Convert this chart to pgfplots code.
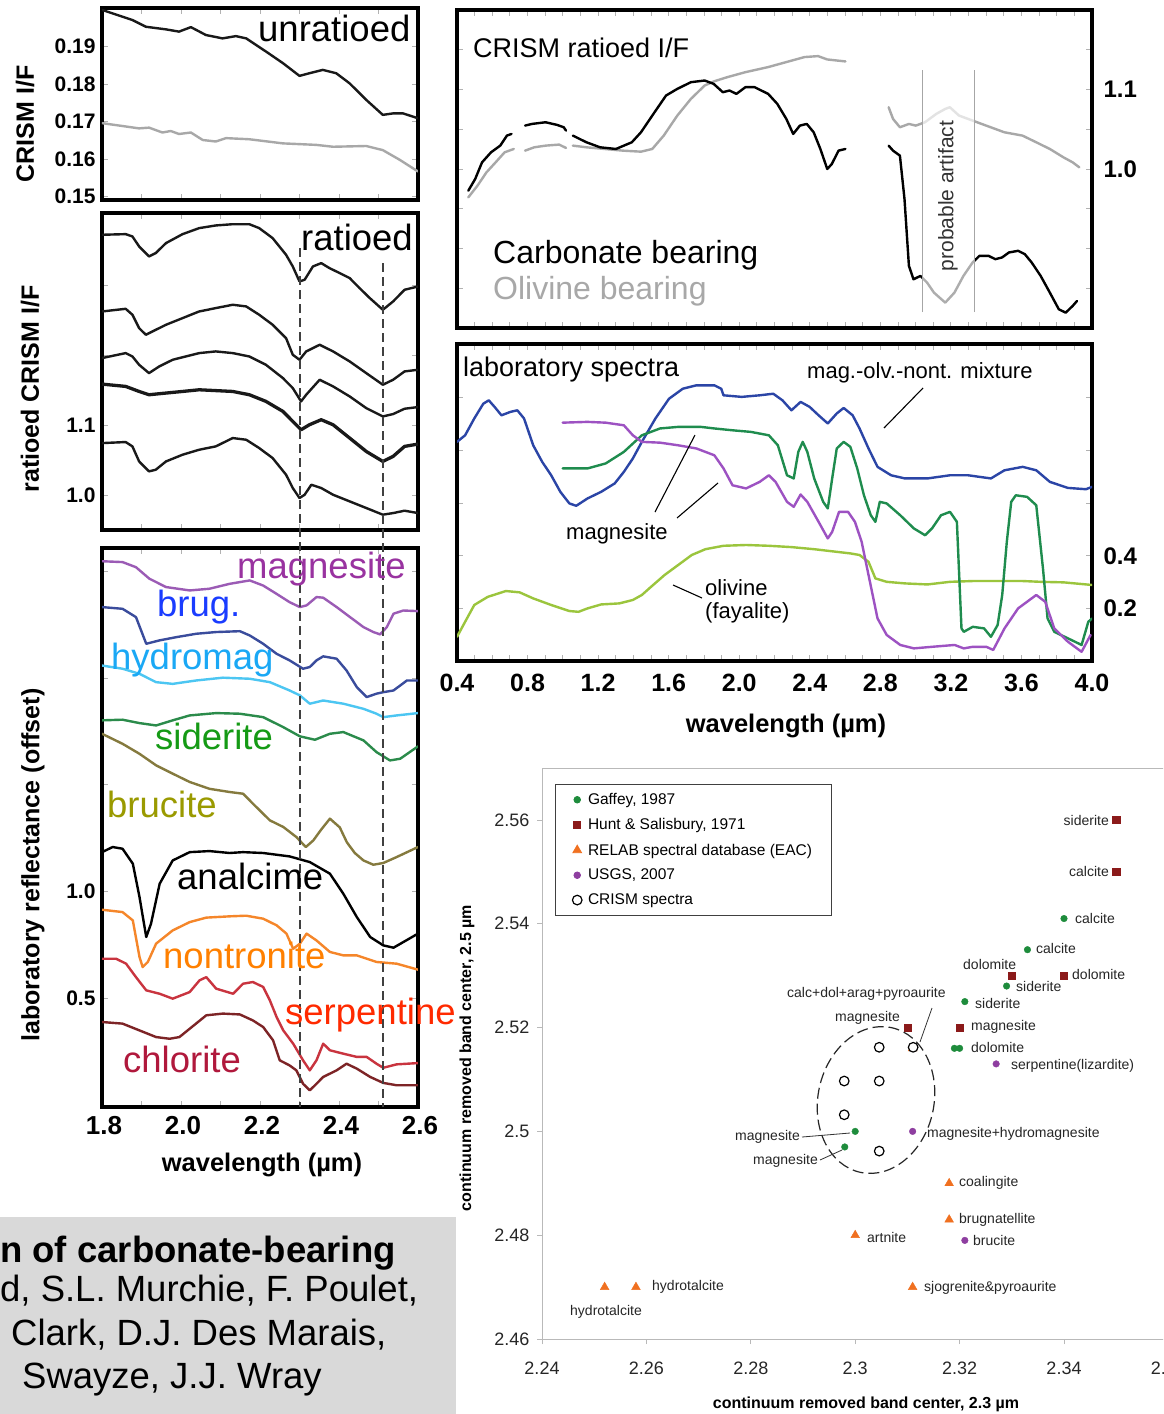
\documentclass[border=0pt]{standalone}
\usepackage{pgfplots}
\pgfplotsset{compat=1.18}
\usepackage{fontspec}
\setmainfont{Liberation Sans}
\newcommand\fs[1]{\fontsize{#1}{#1}\selectfont}
\definecolor{cmag}{HTML}{9B5BB5}
\definecolor{cbrug}{HTML}{3A4C9C}
\definecolor{chyd}{HTML}{4CC6F2}
\definecolor{csid}{HTML}{2B8B4B}
\definecolor{cbru}{HTML}{857A3E}
\definecolor{cnon}{HTML}{F5862A}
\definecolor{cser}{HTML}{C9343F}
\definecolor{cchl}{HTML}{7D2426}
\definecolor{tmag}{HTML}{9933A0}
\definecolor{tbrug}{HTML}{1A3CFF}
\definecolor{thyd}{HTML}{1AA8F5}
\definecolor{tsid}{HTML}{159A15}
\definecolor{tbru}{HTML}{9A9A00}
\definecolor{tnon}{HTML}{FF8000}
\definecolor{tser}{HTML}{FF2A00}
\definecolor{tchl}{HTML}{B0183C}
\definecolor{lblue}{HTML}{2B45A6}
\definecolor{lgreen}{HTML}{1F8C4E}
\definecolor{lpurp}{HTML}{9D52C2}
\definecolor{loliv}{HTML}{9BC53D}
\definecolor{olgray}{HTML}{A8A8A8}
\definecolor{sgreen}{HTML}{1E8C3C}
\definecolor{sred}{HTML}{8B1A1A}
\definecolor{sorange}{HTML}{F07020}
\definecolor{spurp}{HTML}{8E3EA0}
\definecolor{boxgray}{HTML}{D9D9D9}
\pgfplotsset{
  panel/.style={
    scale only axis, anchor=north west,
    axis line style={line width=3.5pt, black},
    tick align=inside,
    major tick length=6pt, minor tick length=6pt,
    tick style={gray!60, line width=0.9pt},
    /pgf/number format/assume math mode=true,
    every axis plot/.append style={line width=2.4pt, line join=round, line cap=round, mark=none},
  },
  lpanel/.style={panel, width=316pt, xmin=1.8, xmax=2.6,
    xtick={1.8,2.0,2.2,2.4,2.6}, minor x tick num=1,
    yticklabel style={font=\bfseries\fs{21}, xshift=-3pt},
    xticklabel style={font=\bfseries\fs{26}, yshift=-6pt, xshift=2pt},
  },
  rpanel/.style={panel, width=635pt, xmin=0.4, xmax=4.0,
    xtick={0.4,0.8,1.2,1.6,2.0,2.4,2.8,3.2,3.6,4.0}, minor x tick num=3,
    yticklabel pos=right,
    yticklabel style={font=\bfseries\fs{24}, xshift=8pt},
    xticklabel style={font=\bfseries\fs{25}, yshift=-9pt},
  },
}
\begin{document}
\begin{tikzpicture}
\path[use as bounding box] (0pt,0pt) rectangle (1163pt,-1414pt);
\clip (0pt,0pt) rectangle (1163pt,-1414pt);
\fill[white] (0pt,0pt) rectangle (1163pt,-1414pt);
\fill[boxgray] (0pt,-1217pt) rectangle (456pt,-1414pt);

% ---------- P1 unratioed ----------
\begin{axis}[lpanel, at={(102pt,-8pt)}, height=192pt,
  ymin=0.1491, ymax=0.2003, xticklabels={},
  ytick={0.15,0.16,0.17,0.18,0.19}, yticklabels={0.15,0.16,0.17,0.18,0.19}]
\addplot[black!90] coordinates {(1.80,0.1998)(1.877,0.1971)(1.911,0.1953)(1.962,0.1946)(1.995,0.1940)(2.025,0.1952)(2.063,0.1931)(2.105,0.1922)(2.139,0.1928)(2.165,0.1922)(2.215,0.1887)(2.258,0.1856)(2.300,0.1822)(2.325,0.1829)(2.359,0.1838)(2.393,0.1829)(2.427,0.1802)(2.469,0.1758)(2.511,0.1718)(2.537,0.1722)(2.562,0.1722)(2.60,0.1709)};
\addplot[olgray] coordinates {(1.80,0.1696)(1.894,0.1682)(1.919,0.1684)(1.953,0.1671)(1.974,0.1675)(1.995,0.1667)(2.025,0.1671)(2.055,0.1651)(2.088,0.1647)(2.114,0.1656)(2.173,0.1653)(2.258,0.1642)(2.342,0.1638)(2.385,0.1633)(2.469,0.1635)(2.511,0.1624)(2.554,0.1598)(2.60,0.1567)};
\end{axis}

% ---------- P2 ratioed ----------
\begin{axis}[lpanel, at={(102pt,-213pt)}, height=317pt,
  ymin=0.951, ymax=1.404, xticklabels={},
  ytick={1.0,1.1,1.2,1.3}, yticklabels={1.0,1.1,{},{}}]
\addplot[black!90] coordinates {(1.80,1.3729)(1.860,1.3738)(1.877,1.3705)(1.894,1.3562)(1.919,1.3419)(1.936,1.3467)(1.962,1.361)(2.004,1.3738)(2.046,1.3824)(2.088,1.3862)(2.131,1.388)(2.173,1.388)(2.198,1.3824)(2.232,1.3681)(2.266,1.3443)(2.283,1.3276)(2.300,1.3062)(2.313,1.3086)(2.334,1.3276)(2.355,1.3324)(2.376,1.3252)(2.402,1.3181)(2.427,1.311)(2.452,1.2967)(2.478,1.2824)(2.511,1.2657)(2.537,1.2776)(2.566,1.2943)(2.60,1.299)};
\addplot[black!90] coordinates {(1.80,1.2633)(1.860,1.2671)(1.877,1.2586)(1.894,1.2395)(1.911,1.23)(1.928,1.2348)(1.962,1.2443)(2.004,1.2538)(2.046,1.2633)(2.088,1.2681)(2.131,1.2729)(2.165,1.2705)(2.198,1.2586)(2.232,1.2443)(2.266,1.2252)(2.283,1.2014)(2.300,1.1943)(2.317,1.2062)(2.351,1.2157)(2.385,1.2062)(2.427,1.1919)(2.469,1.1752)(2.511,1.1586)(2.537,1.1657)(2.566,1.1776)(2.60,1.18)};
\addplot[black!90] coordinates {(1.80,1.1967)(1.860,1.2038)(1.877,1.199)(1.894,1.1871)(1.919,1.1752)(1.945,1.1848)(1.979,1.1943)(2.046,1.2038)(2.088,1.2062)(2.131,1.2038)(2.173,1.199)(2.215,1.1871)(2.258,1.1681)(2.283,1.1538)(2.304,1.1348)(2.317,1.1443)(2.351,1.1657)(2.385,1.1562)(2.427,1.1419)(2.469,1.1252)(2.511,1.1133)(2.537,1.1167)(2.566,1.1243)(2.60,1.1267)};
\addplot[black!90, line width=3.3pt] coordinates {(1.80,1.1595)(1.860,1.1562)(1.894,1.149)(1.919,1.1443)(1.962,1.1467)(2.004,1.149)(2.046,1.1514)(2.131,1.149)(2.173,1.1443)(2.215,1.1348)(2.258,1.1205)(2.283,1.1062)(2.304,1.0943)(2.325,1.1014)(2.355,1.1086)(2.385,1.1014)(2.427,1.0824)(2.469,1.0633)(2.511,1.049)(2.537,1.0562)(2.566,1.0705)(2.60,1.0738)};
\addplot[black!90] coordinates {(1.80,1.0752)(1.860,1.0767)(1.877,1.0705)(1.894,1.049)(1.919,1.0348)(1.936,1.0371)(1.962,1.049)(2.004,1.0586)(2.046,1.0657)(2.088,1.0705)(2.131,1.0824)(2.165,1.08)(2.198,1.0681)(2.232,1.0538)(2.266,1.03)(2.283,1.011)(2.300,0.9967)(2.313,1.0014)(2.330,1.0157)(2.355,1.011)(2.385,1.0014)(2.427,0.9919)(2.469,0.9824)(2.511,0.9729)(2.537,0.9752)(2.566,0.9786)(2.60,0.9752)};
\end{axis}

% ---------- P3 laboratory ----------
\begin{axis}[lpanel, at={(102pt,-548pt)}, height=559pt,
  ymin=-0.011, ymax=2.610,
  xticklabels={1.8,2.0,2.2,2.4,2.6},
  ytick={0.5,1.0,1.5,2.0,2.5}, yticklabels={0.5,1.0,{},{},{}}]
\addplot[cmag] coordinates {(1.80,2.548)(1.852,2.544)(1.886,2.520)(1.92,2.466)(1.962,2.427)(2.022,2.411)(2.072,2.419)(2.123,2.442)(2.174,2.458)(2.208,2.434)(2.242,2.395)(2.275,2.356)(2.301,2.333)(2.318,2.341)(2.343,2.380)(2.36,2.377)(2.394,2.333)(2.428,2.286)(2.462,2.239)(2.487,2.216)(2.504,2.205)(2.521,2.239)(2.538,2.302)(2.563,2.317)(2.60,2.314)};
\addplot[cbrug] coordinates {(1.80,2.333)(1.852,2.325)(1.886,2.286)(1.912,2.161)(1.946,2.177)(1.988,2.192)(2.039,2.208)(2.089,2.216)(2.149,2.220)(2.174,2.2)(2.208,2.161)(2.242,2.114)(2.275,2.083)(2.309,2.044)(2.326,2.052)(2.343,2.083)(2.36,2.102)(2.394,2.091)(2.419,2.036)(2.445,1.958)(2.47,1.911)(2.495,1.927)(2.512,1.934)(2.538,1.942)(2.572,1.989)(2.60,1.989)};
\addplot[chyd] coordinates {(1.80,2.059)(1.852,2.044)(1.895,2.020)(1.937,1.981)(1.979,1.973)(2.039,1.989)(2.106,2.002)(2.174,1.997)(2.225,1.981)(2.275,1.942)(2.301,1.919)(2.326,1.880)(2.36,1.895)(2.411,1.880)(2.462,1.856)(2.495,1.833)(2.512,1.817)(2.546,1.825)(2.60,1.836)};
\addplot[csid] coordinates {(1.80,1.802)(1.852,1.805)(1.895,1.789)(1.937,1.778)(1.979,1.802)(2.022,1.825)(2.089,1.836)(2.149,1.833)(2.208,1.817)(2.259,1.770)(2.301,1.727)(2.339,1.711)(2.377,1.739)(2.411,1.747)(2.462,1.708)(2.495,1.653)(2.529,1.614)(2.555,1.622)(2.60,1.680)};
\addplot[cbru] coordinates {(1.80,1.739)(1.852,1.692)(1.895,1.645)(1.937,1.591)(1.979,1.552)(2.022,1.513)(2.072,1.481)(2.123,1.466)(2.157,1.458)(2.191,1.395)(2.225,1.333)(2.259,1.302)(2.292,1.255)(2.316,1.208)(2.335,1.239)(2.355,1.29)(2.377,1.341)(2.402,1.30)(2.420,1.23)(2.44,1.18)(2.462,1.145)(2.487,1.125)(2.512,1.133)(2.546,1.161)(2.60,1.208)};
\addplot[black] coordinates {(1.80,1.184)(1.827,1.208)(1.852,1.2)(1.878,1.13)(1.895,0.973)(1.912,0.786)(1.924,0.848)(1.946,1.036)(1.979,1.145)(2.022,1.184)(2.072,1.189)(2.123,1.18)(2.157,1.184)(2.208,1.18)(2.275,1.164)(2.326,1.1375)(2.377,1.083)(2.411,0.989)(2.445,0.88)(2.479,0.786)(2.512,0.747)(2.538,0.736)(2.563,0.7625)(2.60,0.802)};
\addplot[cnon] coordinates {(1.80,0.914)(1.852,0.903)(1.878,0.864)(1.895,0.692)(1.903,0.645)(1.916,0.669)(1.937,0.755)(1.979,0.817)(2.022,0.856)(2.064,0.877)(2.123,0.883)(2.165,0.886)(2.208,0.872)(2.242,0.841)(2.267,0.802)(2.284,0.731)(2.301,0.755)(2.318,0.802)(2.343,0.770)(2.377,0.716)(2.411,0.70)(2.445,0.70)(2.495,0.669)(2.546,0.661)(2.60,0.633)};
\addplot[cser] coordinates {(1.80,0.684)(1.836,0.684)(1.861,0.661)(1.886,0.598)(1.912,0.536)(1.946,0.520)(1.979,0.497)(2.022,0.528)(2.047,0.583)(2.064,0.598)(2.089,0.544)(2.132,0.520)(2.157,0.567)(2.182,0.575)(2.208,0.552)(2.225,0.489)(2.242,0.411)(2.259,0.348)(2.284,0.286)(2.309,0.208)(2.326,0.161)(2.343,0.208)(2.36,0.286)(2.377,0.255)(2.411,0.239)(2.445,0.224)(2.47,0.224)(2.495,0.192)(2.512,0.173)(2.546,0.189)(2.60,0.195)};
\addplot[cchl] coordinates {(1.80,0.3875)(1.852,0.380)(1.895,0.348)(1.937,0.317)(1.971,0.309)(1.996,0.317)(2.022,0.356)(2.064,0.419)(2.106,0.427)(2.149,0.423)(2.182,0.395)(2.208,0.364)(2.233,0.302)(2.25,0.208)(2.275,0.184)(2.292,0.161)(2.309,0.098)(2.326,0.067)(2.343,0.098)(2.36,0.130)(2.394,0.161)(2.419,0.192)(2.445,0.169)(2.479,0.130)(2.512,0.102)(2.546,0.091)(2.60,0.091)};
\end{axis}

% ---------- P4 CRISM ratioed ----------
\begin{axis}[rpanel, at={(457pt,-10pt)}, height=318pt,
  ymin=0.8, ymax=1.2, xticklabels={},
  ytick={0.85,0.90,0.95,1.00,1.05,1.10,1.15}, yticklabels={{},{},{},1.0,{},1.1,{}}]
\addplot[olgray] coordinates {(0.464,0.9643)(0.516,0.979)(0.567,0.9958)(0.619,1.0084)(0.670,1.021)(0.722,1.0252)};
\addplot[olgray] coordinates {(0.786,1.0231)(0.838,1.0273)(0.902,1.0294)(0.979,1.0307)(1.018,1.0265)};
\addplot[olgray] coordinates {(1.057,1.0294)(1.134,1.0273)(1.237,1.0252)(1.340,1.0231)(1.443,1.0218)(1.507,1.0252)(1.572,1.042)(1.649,1.0672)(1.726,1.0882)(1.804,1.105)(1.855,1.1101)(1.932,1.1155)(2.035,1.1218)(2.164,1.1282)(2.267,1.1345)(2.370,1.1408)(2.447,1.142)(2.499,1.1378)(2.602,1.1353)};
\addplot[olgray] coordinates {(2.847,1.0777)(2.872,1.063)(2.911,1.0525)(2.962,1.0567)(3.001,1.0546)(3.053,1.0588)(3.117,1.0693)(3.168,1.0756)(3.194,1.0777)(3.246,1.0672)(3.323,1.0609)(3.400,1.0546)(3.503,1.0462)(3.606,1.042)(3.684,1.0336)(3.761,1.0252)(3.838,1.0147)(3.890,1.0084)(3.928,1.0021)};
\addplot[black] coordinates {(0.464,0.9727)(0.503,0.9874)(0.542,1.0084)(0.593,1.021)(0.645,1.0294)(0.683,1.042)(0.709,1.0441)};
\addplot[black] coordinates {(0.786,1.0546)(0.825,1.0567)(0.902,1.0588)(0.967,1.0555)(1.005,1.0525)(1.018,1.0483)};
\addplot[black] coordinates {(1.057,1.042)(1.134,1.0336)(1.211,1.0273)(1.301,1.0252)(1.391,1.0336)(1.443,1.0462)(1.520,1.0714)(1.585,1.0924)(1.649,1.1008)(1.726,1.1092)(1.804,1.1113)(1.855,1.1071)(1.907,1.0966)(1.945,1.0987)(1.984,1.0945)(2.035,1.1029)(2.087,1.1029)(2.164,1.0945)(2.216,1.0819)(2.267,1.063)(2.306,1.0441)(2.344,1.0546)(2.383,1.0567)(2.422,1.0462)(2.460,1.0252)(2.499,1.0)(2.525,1.0063)(2.563,1.0231)(2.602,1.0252)};
\addplot[black] coordinates {(2.847,1.0294)(2.872,1.0231)(2.911,1.0168)(2.937,0.9622)(2.962,0.8782)(2.988,0.8613)(3.027,0.8655)(3.065,0.8571)(3.104,0.8445)(3.168,0.8319)(3.220,0.8445)(3.271,0.8655)(3.323,0.8824)(3.362,0.8908)(3.413,0.8908)(3.452,0.8866)(3.490,0.8887)(3.529,0.895)(3.581,0.8971)(3.619,0.8929)(3.658,0.8824)(3.709,0.8655)(3.761,0.8445)(3.812,0.8235)(3.851,0.8193)(3.890,0.8277)(3.915,0.834)};
\fill[white, opacity=0.68] (axis cs:3.036,0.808) rectangle (axis cs:3.336,1.149);
\draw[gray!70, line width=0.8pt] (axis cs:3.036,0.82) -- (axis cs:3.036,1.124);
\draw[gray!70, line width=0.8pt] (axis cs:3.336,0.82) -- (axis cs:3.336,1.124);
\end{axis}

% ---------- P5 laboratory spectra ----------
\begin{axis}[rpanel, at={(457pt,-344pt)}, height=317pt,
  ymin=0, ymax=1.205,
  xticklabels={0.4,0.8,1.2,1.6,2.0,2.4,2.8,3.2,3.6,4.0},
  ytick={0.2,0.4,0.6,0.8,1.0}, yticklabels={0.2,0.4,{},{},{}}]
\addplot[loliv] coordinates {(0.4,0.092)(0.446,0.149)(0.498,0.213)(0.575,0.244)(0.677,0.266)(0.755,0.261)(0.832,0.238)(0.934,0.213)(1.037,0.190)(1.089,0.187)(1.140,0.2)(1.217,0.215)(1.320,0.219)(1.397,0.232)(1.448,0.251)(1.500,0.282)(1.577,0.327)(1.654,0.365)(1.731,0.403)(1.808,0.425)(1.911,0.438)(2.039,0.441)(2.168,0.438)(2.296,0.433)(2.425,0.425)(2.553,0.415)(2.630,0.409)(2.682,0.403)(2.733,0.377)(2.772,0.314)(2.836,0.301)(2.939,0.295)(3.067,0.291)(3.195,0.301)(3.324,0.304)(3.452,0.304)(3.607,0.304)(3.709,0.301)(3.838,0.299)(4.0,0.289)};
\addplot[lblue] coordinates {(0.4,0.833)(0.446,0.858)(0.498,0.922)(0.549,0.978)(0.580,0.991)(0.613,0.966)(0.652,0.934)(0.703,0.947)(0.742,0.953)(0.780,0.922)(0.832,0.820)(0.883,0.757)(0.934,0.706)(0.986,0.643)(1.037,0.599)(1.076,0.590)(1.140,0.618)(1.217,0.643)(1.294,0.675)(1.346,0.719)(1.397,0.770)(1.448,0.833)(1.525,0.922)(1.602,0.997)(1.680,1.035)(1.757,1.048)(1.859,1.048)(1.898,1.035)(1.911,1.010)(2.014,1.004)(2.116,1.010)(2.193,1.016)(2.245,0.991)(2.296,0.953)(2.348,0.985)(2.399,0.966)(2.450,0.934)(2.502,0.903)(2.553,0.941)(2.592,0.962)(2.643,0.934)(2.682,0.884)(2.733,0.808)(2.784,0.738)(2.861,0.706)(2.939,0.694)(3.067,0.694)(3.195,0.706)(3.298,0.706)(3.427,0.694)(3.504,0.725)(3.607,0.738)(3.684,0.725)(3.761,0.681)(3.863,0.658)(3.966,0.653)(4.0,0.662)};
\addplot[lgreen] coordinates {(0.999,0.732)(1.140,0.732)(1.243,0.751)(1.346,0.795)(1.448,0.858)(1.551,0.884)(1.654,0.890)(1.782,0.890)(1.859,0.884)(1.962,0.877)(2.065,0.871)(2.168,0.858)(2.219,0.820)(2.271,0.706)(2.309,0.694)(2.335,0.795)(2.360,0.833)(2.386,0.795)(2.425,0.694)(2.476,0.605)(2.502,0.580)(2.527,0.694)(2.553,0.808)(2.592,0.833)(2.630,0.814)(2.669,0.732)(2.707,0.630)(2.746,0.554)(2.772,0.529)(2.797,0.605)(2.836,0.599)(2.913,0.554)(2.990,0.504)(3.054,0.478)(3.093,0.504)(3.144,0.554)(3.195,0.567)(3.234,0.529)(3.260,0.124)(3.273,0.111)(3.324,0.130)(3.388,0.124)(3.427,0.092)(3.465,0.137)(3.491,0.251)(3.517,0.453)(3.542,0.605)(3.568,0.630)(3.632,0.624)(3.684,0.592)(3.722,0.352)(3.748,0.162)(3.786,0.111)(3.864,0.086)(3.941,0.061)(3.979,0.149)(4.0,0.162)};
\addplot[lpurp] coordinates {(0.999,0.906)(1.140,0.909)(1.243,0.906)(1.346,0.896)(1.397,0.858)(1.448,0.833)(1.551,0.830)(1.654,0.820)(1.757,0.808)(1.859,0.782)(1.911,0.732)(1.962,0.668)(2.039,0.656)(2.116,0.681)(2.168,0.706)(2.206,0.681)(2.271,0.605)(2.309,0.586)(2.348,0.633)(2.386,0.605)(2.450,0.529)(2.502,0.466)(2.527,0.491)(2.566,0.567)(2.617,0.567)(2.656,0.529)(2.694,0.453)(2.733,0.327)(2.784,0.162)(2.836,0.099)(2.913,0.061)(2.990,0.048)(3.093,0.054)(3.221,0.061)(3.273,0.048)(3.324,0.054)(3.401,0.054)(3.440,0.042)(3.504,0.124)(3.581,0.2)(3.684,0.251)(3.735,0.225)(3.786,0.124)(3.864,0.073)(3.941,0.035)(3.992,0.099)};
\end{axis}

% ---------- scatter ----------
\begin{axis}[scale only axis, anchor=north west, at={(542pt,-768pt)}, width=678.6pt, height=571pt,
  xmin=2.24, xmax=2.37, ymin=2.46, ymax=2.57,
  axis line style={gray!55, line width=1pt},
  tick align=outside, major tick length=5pt, tick style={gray!55, line width=0.8pt},
  xtick={2.24,2.26,2.28,2.30,2.32,2.34,2.36}, xticklabels={2.24,2.26,2.28,2.3,2.32,2.34,2.36},
  ytick={2.46,2.48,2.50,2.52,2.54,2.56}, yticklabels={2.46,2.48,2.5,2.52,2.54,2.56},
  xtick pos=left, ytick pos=left,
  /pgf/number format/assume math mode=true,
  ticklabel style={font=\fs{18}, text=black!85},
  xticklabel style={yshift=-14pt},
  yticklabel style={xshift=-4pt},
  clip=false,
  legend style={at={(0.0192,0.972)}, anchor=north west, draw=black!75, line width=0.8pt,
    font=\fs{15.5}, row sep=8.5pt, column sep=4pt, inner xsep=17pt, inner ysep=7pt},
  legend cell align=left,
]
\addplot[only marks, mark=*, mark size=3.3pt, color=sgreen] coordinates {(2.340,2.541)(2.333,2.535)(2.329,2.528)(2.321,2.525)(2.319,2.516)(2.320,2.516)(2.300,2.500)(2.298,2.497)};
\addlegendentry{Gaffey, 1987}
\addplot[only marks, mark=square*, mark size=3.6pt, color=sred] coordinates {(2.350,2.560)(2.350,2.550)(2.330,2.530)(2.340,2.530)(2.310,2.520)(2.320,2.520)};
\addlegendentry{Hunt \& Salisbury, 1971}
\addplot[only marks, mark=triangle*, mark size=5pt, color=sorange] coordinates {(2.318,2.490)(2.318,2.483)(2.300,2.480)(2.311,2.470)(2.252,2.470)(2.258,2.470)(2.311,2.516)};
\addlegendentry{RELAB spectral database (EAC)}
\addplot[only marks, mark=*, mark size=3.3pt, color=spurp] coordinates {(2.327,2.513)(2.311,2.500)(2.321,2.479)};
\addlegendentry{USGS, 2007}
\addplot[only marks, mark=*, mark size=4.8pt, mark options={fill=white, draw=black, line width=1.2pt}] coordinates {(2.3046,2.5162)(2.3111,2.5162)(2.2979,2.5097)(2.3046,2.5097)(2.2979,2.5032)(2.3046,2.4962)};
\addlegendentry{CRISM spectra}
\end{axis}

\draw[black!85, line width=1.2pt, dash pattern=on 11pt off 5pt, rotate around={-12:(876pt,-1100pt)}] (876pt,-1100pt) ellipse [x radius=58pt, y radius=74pt];

\begin{scope}[x=1pt,y=-1pt]
% dashed reference lines
\draw[gray!50!black, line width=1.3pt, dash pattern=on 9pt off 5pt] (300,248) -- (300,1107);
\draw[gray!50!black, line width=1.3pt, dash pattern=on 9pt off 5pt] (383,263) -- (383,1107);
% panel texts left
\node[anchor=base west, inner sep=0, font=\fs{36.5}] at (258,41) {unratioed};
\node[anchor=base west, inner sep=0, font=\fs{36.5}] at (301,250) {ratioed};
\node[anchor=base west, inner sep=0, font=\fs{36.5}, text=tmag] at (237,578) {magnesite};
\node[anchor=base west, inner sep=0, font=\fs{36.5}, text=tbrug] at (157,616) {brug.};
\node[anchor=base west, inner sep=0, font=\fs{36.5}, text=thyd] at (111,669) {hydromag};
\node[anchor=base west, inner sep=0, font=\fs{36.5}, text=tsid] at (155,749) {siderite};
\node[anchor=base west, inner sep=0, font=\fs{36.5}, text=tbru] at (107,817) {brucite};
\node[anchor=base west, inner sep=0, font=\fs{36.5}] at (177,889) {analcime};
\node[anchor=base west, inner sep=0, font=\fs{36.5}, text=tnon] at (163,968) {nontronite};
\node[anchor=base west, inner sep=0, font=\fs{36.5}, text=tser] at (285,1024) {serpentine};
\node[anchor=base west, inner sep=0, font=\fs{36.5}, text=tchl] at (123,1072) {chlorite};
% axis labels left
\node[rotate=90, font=\bfseries\fs{25}] at (25,124) {CRISM I/F};
\node[rotate=90, font=\bfseries\fs{25}] at (30,389) {ratioed CRISM I/F};
\node[rotate=90, font=\bfseries\fs{25}] at (33,865) {laboratory reflectance (offset)};
\node[anchor=base, font=\bfseries\fs{25.5}] at (262,1171) {wavelength (µm)};
% right panels texts
\node[anchor=base west, inner sep=0, font=\fs{27}] at (473,57) {CRISM ratioed I/F};
\node[anchor=base west, inner sep=0, font=\fs{32}] at (493,263) {Carbonate bearing};
\node[anchor=base west, inner sep=0, font=\fs{32}, text=olgray] at (493,299) {Olivine bearing};
\node[rotate=90, font=\fs{21}, text=black!80] at (948,196) {probable artifact};
\node[anchor=base west, inner sep=0, font=\fs{27}] at (463,376) {laboratory spectra};
\node[anchor=base west, inner sep=0, font=\fs{22}] at (807,378) {mag.-olv.-nont. mixture};
\node[anchor=base west, inner sep=0, font=\fs{22}] at (566,539) {magnesite};
\node[anchor=base west, inner sep=0, font=\fs{22}] at (705,595) {olivine};
\node[anchor=base west, inner sep=0, font=\fs{22}] at (705,618) {(fayalite)};
\draw[black, line width=1.1pt] (923,388) -- (884,428);
\draw[black, line width=1.1pt] (655,512) -- (695,435);
\draw[black, line width=1.1pt] (677,518) -- (718,483);
\draw[black, line width=1.1pt] (673,585) -- (702,598);
\node[anchor=base, font=\bfseries\fs{25.5}] at (786,732) {wavelength (µm)};
% scatter labels
\begin{scope}[every node/.style={inner sep=0, font=\fs{14}, text=black!85}]
\node[anchor=east] at (1109,820) {siderite};
\node[anchor=east] at (1109,871) {calcite};
\node[anchor=west] at (1075,918) {calcite};
\node[anchor=west] at (1036,948) {calcite};
\node[anchor=west] at (963,964) {dolomite};
\node[anchor=west] at (1072,974) {dolomite};
\node[anchor=west] at (1016,986) {siderite};
\node[anchor=west] at (787,994) {calc+dol+arag+pyroaurite};
\node[anchor=west] at (975,1003) {siderite};
\node[anchor=west] at (835,1018) {magnesite};
\node[anchor=west] at (971,1027) {magnesite};
\node[anchor=west] at (971,1047) {dolomite};
\node[anchor=west] at (1011,1066) {serpentine(lizardite)};
\node[anchor=west] at (927,1134) {magnesite+hydromagnesite};
\node[anchor=east] at (800,1137) {magnesite};
\node[anchor=east] at (818,1161) {magnesite};
\node[anchor=west] at (959,1183) {coalingite};
\node[anchor=west] at (959,1220) {brugnatellite};
\node[anchor=west] at (973,1240) {brucite};
\node[anchor=west] at (867,1237) {artnite};
\node[anchor=west] at (924,1288) {sjogrenite\&pyroaurite};
\node[anchor=west] at (652,1287) {hydrotalcite};
\node[anchor=center] at (606,1312) {hydrotalcite};
\end{scope}
\draw[black!80, line width=0.8pt] (932,1008) -- (920,1042);
\draw[black!80, line width=0.8pt] (802,1137) -- (850,1133);
\draw[black!80, line width=0.8pt] (820,1160) -- (842,1150);
\node[rotate=90, font=\bfseries\fs{16}] at (467,1058) {continuum removed band center, 2.5 µm};
\node[font=\bfseries\fs{16}] at (866,1404) {continuum removed band center, 2.3 µm};
% gray box text
\node[anchor=base west, inner sep=0, font=\bfseries\fs{36.5}] at (0,1262) {n of carbonate-bearing};
\node[anchor=base west, inner sep=0, font=\fs{36.5}] at (0,1301) {d, S.L. Murchie, F. Poulet,};
\node[anchor=base west, inner sep=0, font=\fs{36.5}] at (11,1345) {Clark, D.J. Des Marais,};
\node[anchor=base west, inner sep=0, font=\fs{36.5}] at (22,1388) {Swayze, J.J. Wray};
\end{scope}
\end{tikzpicture}
\end{document}
